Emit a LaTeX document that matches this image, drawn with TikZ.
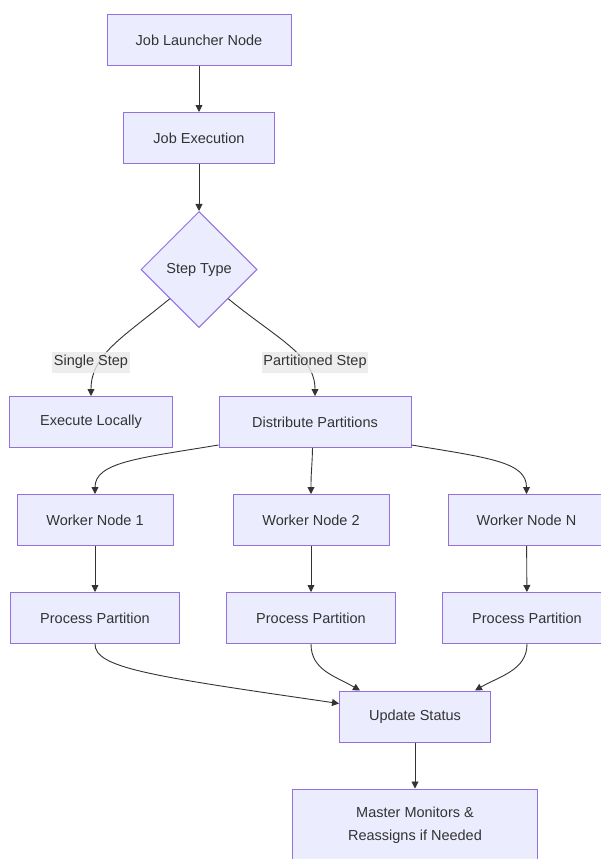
\documentclass[tikz,border=0pt]{standalone}
\usepackage{fontspec}
\setmainfont{Liberation Sans}
\usepackage{xcolor}
\usepackage{tikz}
\usetikzlibrary{arrows.meta, shapes.geometric, positioning}
\definecolor{boxfill}{HTML}{ECECFF}
\definecolor{boxline}{HTML}{9370DB}
\definecolor{edgeline}{HTML}{333333}
\definecolor{lblfill}{HTML}{E8E8E8}

\begin{document}
\begin{tikzpicture}[x=1pt, y=-1pt,
            every node/.style={font=\fontsize{14.5}{22.5}\selectfont, text=edgeline},
            box/.style={draw=boxline, fill=boxfill, line width=1pt, minimum height=51pt, inner sep=0pt},
            decision/.style={diamond, draw=boxline, fill=boxfill, line width=1pt, minimum width=116pt, minimum height=116pt, inner sep=0pt},
            lbl/.style={fill=lblfill, fill opacity=0.8, text opacity=1, inner sep=1.5pt, minimum height=21pt},
            flow/.style={draw=edgeline, line width=0.9pt, -{Triangle[length=7pt, width=7pt]}}]
            \useasboundingbox (0,0) rectangle (601,859);
            % 节点
            \node[box, minimum width=184pt] (launch) at (199,40.5) {Job Launcher Node};
            \node[box, minimum width=151pt] (exec) at (199,138) {Job Execution};
            \node[decision] (type) at (199,269.5) {Step Type};
            \node[box, minimum width=163pt] (local) at (91,422) {Execute Locally};
            \node[box, minimum width=192pt] (dist) at (315,422) {Distribute Partitions};
            \node[box, minimum width=156pt] (w1) at (95,520) {Worker Node 1};
            \node[box, minimum width=156pt] (w2) at (311,520) {Worker Node 2};
            \node[box, minimum width=156pt] (wn) at (526.5,520) {Worker Node N};
            \node[box, minimum width=169pt] (p1) at (95,618) {Process Partition};
            \node[box, minimum width=169pt] (p2) at (311,618) {Process Partition};
            \node[box, minimum width=169pt] (pn) at (527,618) {Process Partition};
            \node[box, minimum width=151pt] (upd) at (415,716.5) {Update Status};
            \node[box, minimum width=245pt, minimum height=72pt, align=center] (master) at (415,825)
                {Master Monitors \&\\Reassigns if Needed};
            % 连线
            \draw[flow] (launch) -- (exec);
            \draw[flow] (exec) -- (type);
            \draw[flow] (type.south west) .. controls (122,338) and (91,355) .. (local.north);
            \draw[flow] (type.south east) .. controls (276,338) and (315,355) .. (dist.north);
            \node[lbl] (single) at (91,362) {Single Step};
            \node[lbl] (parted) at (315,362) {Partitioned Step};
            \draw[flow] ([yshift=3pt]dist.south west) .. controls (140,458) and (95,462) .. (w1.north);
            \draw[flow] ([xshift=-2.5pt]dist.south) .. controls (312,470) and (311,470) .. (w2.north);
            \draw[flow] ([yshift=3pt]dist.south east) .. controls (490,458) and (526.5,462) .. (wn.north);
            \draw[flow] (w1) -- (p1);
            \draw[flow] (w2) -- (p2);
            \draw[flow] (wn) -- (pn);
            \draw[flow] (p1.south) .. controls (95,668) and (150,676) .. ([yshift=13pt]upd.west);
            \draw[flow] (p2.south) .. controls (311,670) and (335,676) .. ([xshift=-55pt]upd.north);
            \draw[flow] (pn.south) .. controls (527,670) and (500,676) .. ([xshift=60pt]upd.north);
            \draw[flow] (upd) -- (master);
        \end{tikzpicture}
\end{document}
